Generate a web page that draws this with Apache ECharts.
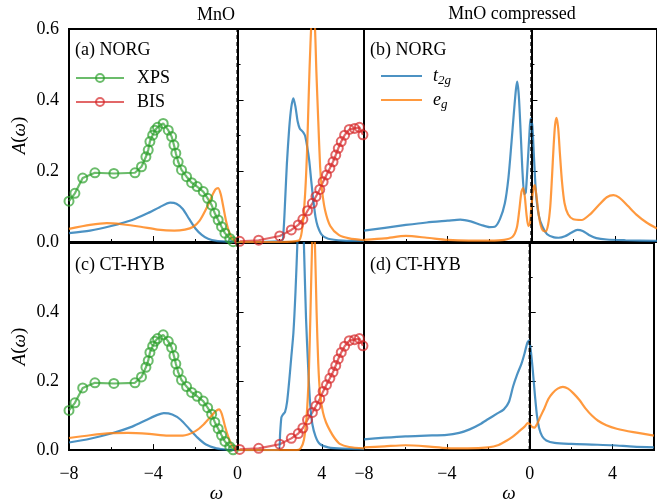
<!DOCTYPE html>
<html>
<head>
<meta charset="utf-8">
<script src="https://cdn.jsdelivr.net/npm/echarts@6/dist/echarts.min.js"></script>
<style>html,body{margin:0;padding:0;background:#fff}#chart{width:657px;height:504px}</style>
</head>
<body>
<div id="chart"></div>
<script>
// experiment (same in both left panels)
var xps = [[-8,0.115],[-7.72,0.137],[-7.35,0.18],[-6.77,0.195],[-5.87,0.193],[-4.87,0.195],[-4.56,0.212],[-4.35,0.24],[-4.24,0.259],
  [-4.16,0.283],[-4.03,0.301],[-3.92,0.315],[-3.8,0.323],[-3.53,0.334],[-3.29,0.315],[-3.13,0.297],[-3.02,0.273],[-2.93,0.25],
  [-2.82,0.226],[-2.66,0.203],[-2.42,0.184],[-2.18,0.167],[-1.92,0.156],[-1.63,0.142],[-1.42,0.123],[-1.23,0.104],[-1.08,0.081],
  [-0.92,0.062],[-0.76,0.043],[-0.6,0.025],[-0.37,0.01],[-0.21,0.001]];
var bis = [[0.1,0.002],[1.0,0.005],[2.0,0.017],[2.55,0.034],[2.88,0.048],[3.1,0.064],[3.32,0.088],[3.55,0.109],[3.72,0.128],
  [3.9,0.148],[4.06,0.17],[4.22,0.189],[4.38,0.208],[4.53,0.226],[4.66,0.245],[4.78,0.264],[4.92,0.283],[5.08,0.301],
  [5.3,0.317],[5.55,0.32],[5.78,0.323],[5.95,0.302]];

// (a) MnO NORG
var t2gA = [[-8,0.025],[-7,0.032],[-6,0.045],[-5,0.062],[-4.3,0.08],[-3.7,0.098],[-3.2,0.111],[-2.9,0.108],[-2.6,0.093],
  [-2.3,0.065],[-2.0,0.038],[-1.7,0.02],[-1.4,0.009],[-1.0,0.003],[-0.5,0.001],[0,0],[1,0],[2.1,0.003],[2.18,0.03],[2.26,0.12],
  [2.34,0.22],[2.45,0.32],[2.55,0.38],[2.65,0.405],[2.75,0.38],[2.85,0.34],[2.95,0.32],[3.1,0.31],[3.2,0.3],[3.3,0.27],
  [3.4,0.23],[3.5,0.17],[3.6,0.115],[3.7,0.07],[3.8,0.045],[4.0,0.02],[4.3,0.009],[5,0.004],[6,0.003]];
var egA = [[-8,0.037],[-7,0.048],[-6.2,0.053],[-5.5,0.05],[-4.6,0.043],[-3.8,0.035],[-3.0,0.032],[-2.5,0.035],[-2.1,0.043],
  [-1.8,0.06],[-1.5,0.092],[-1.25,0.125],[-1.05,0.148],[-0.92,0.152],[-0.8,0.135],[-0.68,0.1],[-0.55,0.06],[-0.4,0.028],
  [-0.25,0.01],[-0.1,0.002],[0,0],[2,0],[2.9,0.004],[3.05,0.03],[3.2,0.13],[3.3,0.26],[3.38,0.42],[3.46,0.56],[3.56,0.66],
  [3.66,0.62],[3.74,0.48],[3.83,0.34],[3.92,0.21],[4.0,0.15],[4.15,0.09],[4.4,0.045],[4.8,0.02],[5.3,0.01],[6,0.005]];

// (b) MnO compressed NORG
var t2gB = [[-8,0.032],[-7,0.04],[-6,0.048],[-5,0.055],[-4,0.06],[-3.4,0.063],[-2.9,0.058],[-2.4,0.048],[-2.0,0.042],
  [-1.75,0.043],[-1.5,0.065],[-1.27,0.109],[-1.1,0.18],[-0.96,0.275],[-0.83,0.37],[-0.74,0.43],[-0.68,0.452],[-0.6,0.41],
  [-0.5,0.29],[-0.42,0.19],[-0.34,0.135],[-0.27,0.14],[-0.18,0.22],[-0.1,0.3],[-0.04,0.348],[0.04,0.33],[0.12,0.24],
  [0.22,0.136],[0.35,0.075],[0.53,0.043],[0.75,0.022],[1.08,0.013],[1.3,0.012],[1.6,0.016],[1.9,0.026],[2.2,0.034],
  [2.45,0.031],[2.75,0.02],[3.1,0.011],[3.6,0.007],[4.5,0.005],[6,0.003]];
var egB = [[-8,0.006],[-7,0.01],[-6,0.017],[-5,0.012],[-4,0.006],[-3,0.004],[-2,0.004],[-1.3,0.006],[-0.9,0.015],[-0.7,0.04],
  [-0.58,0.09],[-0.48,0.14],[-0.4,0.152],[-0.32,0.13],[-0.24,0.08],[-0.15,0.045],[-0.08,0.05],[0,0.1],[0.08,0.145],[0.16,0.16],
  [0.24,0.13],[0.33,0.085],[0.43,0.05],[0.55,0.032],[0.68,0.03],[0.8,0.05],[0.9,0.1],[0.98,0.18],[1.06,0.27],[1.13,0.33],
  [1.2,0.35],[1.28,0.32],[1.36,0.25],[1.46,0.17],[1.58,0.11],[1.75,0.078],[2.0,0.064],[2.4,0.062],[2.8,0.078],[3.2,0.103],
  [3.6,0.126],[3.92,0.132],[4.2,0.125],[4.6,0.102],[5.0,0.078],[5.5,0.055],[6,0.038]];

// (c) MnO CT-HYB
var t2gC = [[-8,0.022],[-7,0.033],[-6,0.048],[-5,0.068],[-4.3,0.088],[-3.8,0.102],[-3.5,0.107],[-3.1,0.103],[-2.7,0.088],
  [-2.3,0.062],[-1.9,0.036],[-1.5,0.016],[-1.0,0.005],[-0.5,0.001],[0,0],[1.95,0.001],[2.02,0.05],[2.08,0.095],[2.15,0.103],
  [2.25,0.11],[2.35,0.14],[2.45,0.2],[2.55,0.27],[2.65,0.34],[2.75,0.46],[2.85,0.62],[2.93,0.78],[3.0,0.85],[3.08,0.75],
  [3.16,0.57],[3.25,0.38],[3.35,0.24],[3.45,0.13],[3.55,0.075],[3.7,0.04],[3.9,0.018],[4.3,0.008],[5,0.004],[6,0.003]];
var egC = [[-8,0.035],[-7,0.043],[-6,0.049],[-5.2,0.05],[-4.2,0.047],[-3.3,0.042],[-2.6,0.042],[-2.0,0.055],[-1.6,0.075],
  [-1.3,0.095],[-1.05,0.112],[-0.88,0.118],[-0.75,0.105],[-0.6,0.07],[-0.45,0.04],[-0.3,0.018],[-0.15,0.005],[0,0],[2.8,0],
  [3.0,0.006],[3.15,0.03],[3.28,0.1],[3.38,0.22],[3.46,0.4],[3.53,0.58],[3.6,0.68],[3.67,0.6],[3.75,0.4],[3.83,0.25],
  [3.92,0.16],[4.05,0.11],[4.2,0.08],[4.4,0.055],[4.6,0.035],[4.85,0.018],[5.3,0.009],[6,0.005]];

// (d) MnO compressed CT-HYB
var t2gD = [[-8,0.031],[-7,0.036],[-6,0.04],[-5,0.042],[-4,0.044],[-3.4,0.05],[-2.9,0.06],[-2.4,0.075],[-2.0,0.09],[-1.6,0.105],
  [-1.25,0.118],[-1.0,0.14],[-0.8,0.185],[-0.6,0.22],[-0.4,0.25],[-0.25,0.28],[-0.12,0.31],[-0.03,0.318],[0.05,0.29],[0.15,0.23],
  [0.25,0.16],[0.35,0.1],[0.45,0.065],[0.6,0.04],[0.8,0.028],[1.2,0.021],[2,0.018],[3,0.016],[4,0.014],[5,0.01],[6,0.008]];
var egD = [[-8,0.008],[-7,0.011],[-6,0.014],[-5,0.011],[-4,0.006],[-3,0.005],[-2,0.008],[-1.5,0.015],[-1.1,0.028],[-0.8,0.04],
  [-0.5,0.055],[-0.25,0.068],[-0.1,0.078],[0.0,0.075],[0.1,0.068],[0.22,0.065],[0.35,0.075],[0.5,0.095],[0.7,0.12],[0.9,0.148],
  [1.1,0.165],[1.35,0.178],[1.6,0.183],[1.85,0.178],[2.1,0.165],[2.4,0.145],[2.7,0.12],[3.0,0.1],[3.3,0.085],[3.7,0.072],
  [4.2,0.062],[5,0.052],[6,0.042]];

// Fermi level marker
var fermi = [[0, 0], [0, 0.6]];

var xTicks = [-8, -4, 0, 4];
var yTicks = [0, 0.2, 0.4, 0.6];

var FONT = 'Liberation Serif';
var BLUE = 'rgba(31,119,180,0.8)', ORANGE = 'rgba(255,127,14,0.8)';
var GREEN = 'rgba(44,160,44,0.7)', RED = 'rgba(214,39,40,0.7)';

var grids = [
  {left: 69, top: 29, width: 295, height: 213},
  {left: 364, top: 29, width: 296, height: 213},
  {left: 69, top: 243, width: 295, height: 215},
  {left: 364, top: 243, width: 296, height: 215}
];
grids.forEach(function(g){ g.show = true; g.borderColor = '#000'; g.borderWidth = 2; g.containLabel = false; });

function xAx(i, lab){
  return {
    type: 'value', gridIndex: i, min: -8, max: 6, interval: 4,
    axisLine: {show: true, lineStyle: {color: '#000', width: 2}},
    axisTick: {inside: true, length: 6, lineStyle: {color: '#000', width: 1}},
    minorTick: {show: true, splitNumber: 2, length: 3, lineStyle: {color: '#000', width: 1}},
    splitLine: {show: false},
    axisLabel: {show: lab, margin: 15, color: '#000', fontFamily: FONT, fontSize: 18,
      formatter: function(v){ if (xTicks.indexOf(v) < 0) return ''; return v < 0 ? '\u2212' + Math.abs(v) : '' + v; }},
    name: lab ? '\u03c9' : '', nameLocation: 'middle', nameGap: 31,
    nameTextStyle: {color: '#000', fontFamily: FONT, fontSize: 19, fontStyle: 'italic'}
  };
}
function yAx(i, lab, hideTop){
  return {
    type: 'value', gridIndex: i, min: 0, max: 0.6, interval: 0.2,
    axisLine: {show: true, lineStyle: {color: '#000', width: 2}},
    axisTick: {inside: true, length: 6, lineStyle: {color: '#000', width: 1}},
    minorTick: {show: true, splitNumber: 2, length: 3, lineStyle: {color: '#000', width: 1}},
    splitLine: {show: false},
    axisLabel: {show: lab, margin: 10, color: '#000', fontFamily: FONT, fontSize: 18,
      formatter: function(v){ if (hideTop && v > 0.55) return ''; return v.toFixed(1); }},
    name: lab ? '{i|A}{n|(}{i|\u03c9}{n|)}' : '', nameLocation: 'middle', nameGap: 40, nameRotate: 90,
    nameTextStyle: {color: '#000', rich: {
      i: {fontFamily: FONT, fontSize: 19, fontStyle: 'italic', color: '#000'},
      n: {fontFamily: FONT, fontSize: 19, color: '#000'}}}
  };
}

function curve(name, data, color, i){
  return {
    name: name, type: 'line', data: data, xAxisIndex: i, yAxisIndex: i,
    showSymbol: false, symbol: 'none', smooth: 0.25, clip: true,
    lineStyle: {color: color, width: 2.2}, itemStyle: {color: color}
  };
}
function expt(name, data, color, i){
  return {
    name: name, type: 'line', data: data, xAxisIndex: i, yAxisIndex: i,
    symbol: 'circle', symbolSize: 9, showSymbol: true, clip: true,
    lineStyle: {color: color, width: 2.2},
    itemStyle: {color: 'rgba(255,255,255,0)', borderColor: color, borderWidth: 2}
  };
}
function zero(i){
  return {
    name: 'zero', type: 'line', data: fermi, xAxisIndex: i, yAxisIndex: i, silent: true,
    showSymbol: false, symbol: 'none', z: 5,
    lineStyle: {color: '#000', width: 2.2, type: [4, 3]}
  };
}

var series = [
  expt('XPS', xps, GREEN, 0), expt('BIS', bis, RED, 0),
  curve('t2g', t2gA, BLUE, 0), curve('eg', egA, ORANGE, 0), zero(0),
  curve('t2g', t2gB, BLUE, 1), curve('eg', egB, ORANGE, 1), zero(1),
  expt('XPS', xps, GREEN, 2), expt('BIS', bis, RED, 2),
  curve('t2g', t2gC, BLUE, 2), curve('eg', egC, ORANGE, 2), zero(2),
  curve('t2g', t2gD, BLUE, 3), curve('eg', egD, ORANGE, 3), zero(3)
];

function label(txt, x, y, align){
  return {type: 'text', x: x, y: y, style: {text: txt, font: '18px "' + FONT + '"', fill: '#000',
    textAlign: align || 'left', textVerticalAlign: 'middle'}};
}

var option = {
  animation: false,
  backgroundColor: '#fff',
  grid: grids,
  xAxis: [xAx(0, false), xAx(1, false), xAx(2, true), xAx(3, true)],
  yAxis: [yAx(0, true, false), yAx(1, false), yAx(2, true, true), yAx(3, false)],
  legend: [
    {data: ['XPS', 'BIS'], orient: 'vertical', left: 70, top: 64, itemWidth: 48, itemHeight: 10, itemGap: 6,
      textStyle: {color: '#000', fontFamily: FONT, fontSize: 18, padding: [0, 0, 0, 8]}, selectedMode: false},
    {data: ['t2g', 'eg'], orient: 'vertical', left: 375, top: 62, itemWidth: 41, itemHeight: 10, itemGap: 4,
      selectedMode: false, itemStyle: {opacity: 0},
      formatter: function(n){ return n === 't2g' ? '{i|t}{s|2g}' : '{i|e}{s|g}'; },
      textStyle: {color: '#000', padding: [0, 0, 0, 6], rich: {
        i: {fontFamily: FONT, fontSize: 18, fontStyle: 'italic', color: '#000'},
        s: {fontFamily: FONT, fontSize: 13, fontStyle: 'italic', color: '#000', padding: [9, 0, 0, 0]}}}}
  ],
  graphic: [
    label('MnO', 216, 15, 'center'), label('MnO compressed', 512, 14, 'center'),
    label('(a) NORG', 75, 50), label('(b) NORG', 370, 50),
    label('(c) CT-HYB', 75, 265), label('(d) CT-HYB', 370, 265)
  ],
  series: series
};

var myChart = echarts.init(document.getElementById('chart'));
myChart.setOption(option);
</script>
</body>
</html>
